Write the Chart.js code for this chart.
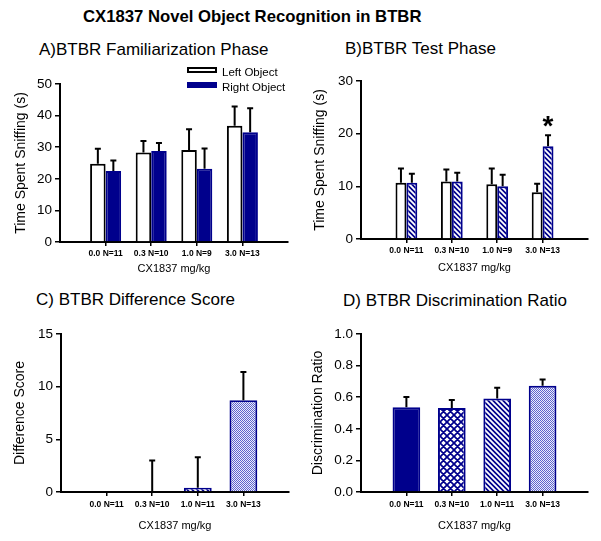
<!DOCTYPE html>
<html>
<head>
<meta charset="utf-8">
<script src="https://cdn.jsdelivr.net/npm/chart.js@4.4.1/dist/chart.umd.min.js"></script>
<style>
  body { margin: 0; background: #fff; width: 601px; height: 541px; position: relative; overflow: hidden;
         font-family: "Liberation Sans", Arial, sans-serif; color: #000; }
  .panel { position: absolute; }
  .ttl { position: absolute; font-size: 17px; line-height: 17px; white-space: nowrap; }
  #main { position: absolute; left: 83px; top: 9px; font-size: 16.7px; line-height: 16.7px; font-weight: bold; white-space: nowrap; }
</style>
</head>
<body>
<div id="main">CX1837 Novel Object Recognition in BTBR</div>
<div class="ttl" style="left:39px;top:41px">A)BTBR Familiarization Phase</div>
<div class="ttl" style="left:345px;top:40px">B)BTBR Test Phase</div>
<div class="ttl" style="left:36px;top:291px">C) BTBR Difference Score</div>
<div class="ttl" style="left:343px;top:292px">D) BTBR Discrimination Ratio</div>

<canvas id="chartA" class="panel"></canvas>
<canvas id="chartB" class="panel"></canvas>
<canvas id="chartC" class="panel"></canvas>
<canvas id="chartD" class="panel"></canvas>

<script>
// categories
const dosesAB = ['0.0 N=11', '0.3 N=10', '1.0 N=9', '3.0 N=13'];
const dosesCD = ['0.0 N=11', '0.3 N=10', '1.0 N=11', '3.0 N=13'];

// A) familiarization phase, time sniffing (s), mean and SEM
const leftObj = [24.8, 28.3, 29.1, 36.8];
const leftErr = [4.7, 3.7, 6.6, 6.1];
const rightObj = [22.5, 28.8, 23.2, 34.7];
const rightErr = [3.3, 2.5, 6.4, 7.6];

// B) test phase
const familiarObj = [10.7, 10.9, 10.4, 8.9];
const familiarErr = [2.7, 2.3, 3.0, 1.6];
const novelObj = [10.7, 10.9, 10.0, 17.6];
const novelErr = [1.7, 1.7, 2.2, 2.1];

// C) difference score
const diffScore = [0, 0, 0.4, 8.7];
const diffErr = [null, 3.0, 2.9, 2.7];

// D) discrimination ratio
const discRatio = [0.537, 0.531, 0.592, 0.672];
const discErr = [0.065, 0.051, 0.068, 0.040];

// y ticks
const yMaxA = 50, yStepA = 10;
const yMaxB = 30, yStepB = 10;
const yMaxC = 15, yStepC = 5;
const yMaxD = 1.0, yStepD = 0.2;

const FONT = '"Liberation Sans", Arial, sans-serif';
const BLUE = 'rgb(0, 0, 140)';

function tile(size, draw) {
  const c = document.createElement('canvas');
  c.width = c.height = size;
  draw(c.getContext('2d'), size);
  return c.getContext('2d').createPattern(c, 'repeat');
}

const stripes = tile(5, (g, s) => {
  g.fillStyle = BLUE; g.fillRect(0, 0, s, s);
  g.strokeStyle = '#fff'; g.lineWidth = 1.8;
  g.beginPath();
  for (const k of [-s, 0, s]) { g.moveTo(k - 1, -1); g.lineTo(k + s + 1, s + 1); }
  g.stroke();
});

const cross = tile(7, (g, s) => {
  g.fillStyle = '#fff'; g.fillRect(0, 0, s, s);
  g.strokeStyle = BLUE; g.lineWidth = 1.7;
  g.beginPath();
  for (const k of [-s, 0, s]) {
    g.moveTo(k - 1, -1); g.lineTo(k + s + 1, s + 1);
    g.moveTo(k + s + 1, -1); g.lineTo(k - 1, s + 1);
  }
  g.stroke();
});

const dots = tile(2, (g) => {
  g.fillStyle = 'rgb(235, 237, 252)'; g.fillRect(0, 0, 2, 2);
  g.fillStyle = 'rgb(95, 100, 205)';
  g.fillRect(0, 0, 1, 1); g.fillRect(1, 1, 1, 1);
});

const toXY = arr => arr.map((v, i) => ({ x: i + 1, y: v }));

// error bars (upper half only)
const errorBars = {
  id: 'errorBars',
  afterDatasetsDraw(chart) {
    const ctx = chart.ctx, y = chart.scales.y;
    ctx.save();
    ctx.strokeStyle = '#000';
    ctx.lineWidth = 2;
    chart.data.datasets.forEach((ds, i) => {
      if (!ds.errors) return;
      chart.getDatasetMeta(i).data.forEach((bar, j) => {
        const e = ds.errors[j];
        if (e == null) return;
        const top = y.getPixelForValue(ds.data[j].y + e);
        ctx.beginPath();
        ctx.moveTo(bar.x, bar.y);
        ctx.lineTo(bar.x, top);
        ctx.moveTo(bar.x - 3, top);
        ctx.lineTo(bar.x + 3, top);
        ctx.stroke();
      });
    });
    ctx.restore();
  }
};

const boxLegend = {
  id: 'boxLegend',
  afterDraw(chart, args, opts) {
    if (!opts.items) return;
    const ctx = chart.ctx;
    ctx.save();
    ctx.font = '11.5px ' + FONT;
    ctx.textBaseline = 'middle';
    opts.items.forEach((it, i) => {
      const yy = opts.y + i * opts.rowH;
      ctx.fillStyle = it.fill;
      ctx.fillRect(opts.x, yy - 4, opts.boxW, 4);
      ctx.strokeStyle = it.stroke;
      ctx.lineWidth = 2;
      ctx.strokeRect(opts.x, yy - 4, opts.boxW, 4);
      ctx.fillStyle = '#000';
      ctx.fillText(it.label, opts.x + opts.boxW + 6, yy + 1);
    });
    ctx.restore();
  }
};

const starMark = {
  id: 'starMark',
  afterDraw(chart, args, opts) {
    if (opts.dataset == null) return;
    const ds = chart.data.datasets[opts.dataset];
    const bar = chart.getDatasetMeta(opts.dataset).data[opts.index];
    const top = chart.scales.y.getPixelForValue(ds.data[opts.index].y + ds.errors[opts.index]);
    const ctx = chart.ctx;
    ctx.save();
    ctx.font = 'bold 28px ' + FONT;
    ctx.textAlign = 'center';
    ctx.fillStyle = '#000';
    ctx.fillText('*', bar.x, top);
    ctx.restore();
  }
};

function makePanel(id, box, area, cfg) {
  const el = document.getElementById(id);
  el.width = box.w; el.height = box.h;
  el.style.left = box.x + 'px'; el.style.top = box.y + 'px';
  const yW = area.l - box.x;
  const xH = box.y + box.h - area.b;
  new Chart(el, {
    type: 'bar',
    data: { datasets: cfg.datasets },
    plugins: [errorBars, boxLegend, starMark],
    options: {
      responsive: false,
      animation: false,
      layout: { padding: { left: 0, top: area.t - box.y, right: box.x + box.w - area.r, bottom: 0 } },
      plugins: {
        legend: { display: false },
        tooltip: { enabled: false },
        boxLegend: cfg.legend || {},
        starMark: cfg.star || {}
      },
      scales: {
        x: {
          type: 'linear', min: 0, max: 5, offset: false,
          afterBuildTicks: s => { s.ticks = cfg.labels.map((l, i) => ({ value: i + 1 })); },
          afterFit: s => { s.height = xH; },
          ticks: {
            callback: v => cfg.labels[v - 1],
            font: { family: FONT, size: 8.5, weight: 'bold' },
            color: '#000', padding: cfg.xPad, autoSkip: false, maxRotation: 0
          },
          grid: { display: true, offset: false, drawOnChartArea: false, drawTicks: true, tickLength: 4, color: '#000', lineWidth: 1.5 },
          border: { display: true, color: '#000', width: 2 },
          title: { display: true, text: 'CX1837 mg/kg', color: '#000', font: { family: FONT, size: 11 },
                   padding: { top: 0, bottom: cfg.xTitlePad } }
        },
        y: {
          min: 0, max: cfg.yMax,
          afterFit: s => { s.width = yW; },
          ticks: { stepSize: cfg.yStep, color: '#000', padding: 3, font: { family: FONT, size: 13.5 },
                   callback: cfg.yFmt || (v => v) },
          grid: { display: true, drawOnChartArea: false, drawTicks: true, tickLength: 5, color: '#000', lineWidth: 1.5 },
          border: { display: true, color: '#000', width: 2 },
          title: { display: true, text: cfg.yTitle, color: '#000', font: { family: FONT, size: 14 },
                   padding: { top: cfg.yTitlePad, bottom: 0 } }
        }
      }
    }
  });
}

// A
makePanel('chartA', { x: 0, y: 55, w: 300, h: 230 }, { l: 60, t: 84, r: 288, b: 242 }, {
  labels: dosesAB, yMax: yMaxA, yStep: yStepA, yTitle: 'Time Spent Sniffing (s)',
  yTitlePad: 13, xPad: 3, xTitlePad: 9,
  datasets: [
    { label: 'Left Object', data: toXY(leftObj), errors: leftErr, backgroundColor: '#fff', borderColor: '#000',
      borderWidth: 2, categoryPercentage: 0.68, barPercentage: 1 },
    { label: 'Right Object', data: toXY(rightObj), errors: rightErr, backgroundColor: BLUE, borderColor: BLUE,
      borderWidth: 2, categoryPercentage: 0.68, barPercentage: 1 }
  ],
  legend: { x: 188, y: 72 - 55, rowH: 15, boxW: 28,
            items: [{ label: 'Left Object', fill: '#fff', stroke: '#000' },
                    { label: 'Right Object', fill: BLUE, stroke: BLUE }] }
});

// B
makePanel('chartB', { x: 300, y: 55, w: 301, h: 230 }, { l: 361, t: 81, r: 588, b: 239 }, {
  labels: dosesAB, yMax: yMaxB, yStep: yStepB, yTitle: 'Time Spent Sniffing (s)',
  yTitlePad: 12, xPad: 3, xTitlePad: 10,
  datasets: [
    { label: 'Familiar Object', data: toXY(familiarObj), errors: familiarErr, backgroundColor: '#fff', borderColor: '#000',
      borderWidth: 2, categoryPercentage: 0.48, barPercentage: 1 },
    { label: 'Novel Object', data: toXY(novelObj), errors: novelErr, backgroundColor: stripes, borderColor: BLUE,
      borderWidth: 2, categoryPercentage: 0.48, barPercentage: 1 }
  ],
  legend: { x: 472, y: 64 - 55, rowH: 16, boxW: 27,
            items: [{ label: 'Familiar Object', fill: '#fff', stroke: '#000' },
                    { label: 'Novel Object', fill: stripes, stroke: BLUE }] },
  star: { dataset: 1, index: 3 }
});

// C
makePanel('chartC', { x: 0, y: 310, w: 300, h: 231 }, { l: 61, t: 334, r: 289, b: 492 }, {
  labels: dosesCD, yMax: yMaxC, yStep: yStepC, yTitle: 'Difference Score',
  yTitlePad: 12, xPad: 4, xTitlePad: 8,
  datasets: [
    { label: 'Difference Score', data: toXY(diffScore), errors: diffErr,
      backgroundColor: [BLUE, cross, stripes, dots], borderColor: BLUE,
      borderWidth: 2, categoryPercentage: 0.61, barPercentage: 1 }
  ]
});

// D
makePanel('chartD', { x: 300, y: 310, w: 301, h: 231 }, { l: 361, t: 334, r: 588, b: 492 }, {
  labels: dosesCD, yMax: yMaxD, yStep: yStepD, yTitle: 'Discrimination Ratio',
  yTitlePad: 10, xPad: 4, xTitlePad: 8, yFmt: v => v.toFixed(1),
  datasets: [
    { label: 'Discrimination Ratio', data: toXY(discRatio), errors: discErr,
      backgroundColor: [BLUE, cross, stripes, dots], borderColor: BLUE,
      borderWidth: 2, categoryPercentage: 0.61, barPercentage: 1 }
  ]
});
</script>
</body>
</html>
